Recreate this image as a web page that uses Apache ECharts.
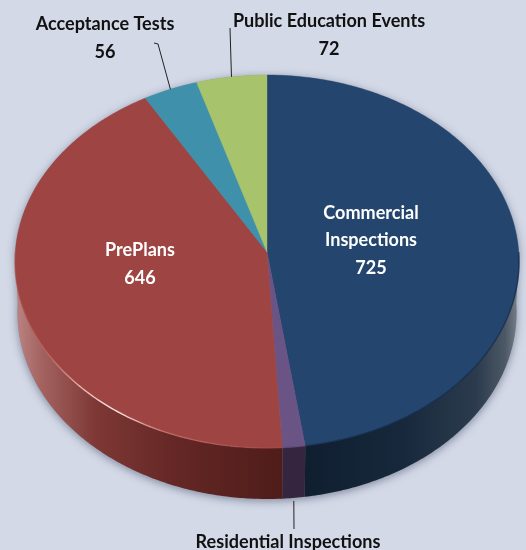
<!DOCTYPE html>
<html>
<head>
<meta charset="utf-8">
<script src="https://cdn.jsdelivr.net/npm/echarts@6/dist/echarts.min.js"></script>
<style>
  html, body { margin: 0; padding: 0; background: #d3d9e7; }
  #main { width: 526px; height: 550px; }
</style>
</head>
<body>
<div id="main"></div>
<script>
// values, in drawing order clockwise from 12 o'clock
const categories = ['Commercial\nInspections', 'Residential Inspections', 'PrePlans', 'Acceptance Tests', 'Public Education Events']
const values = [725, 21, 646, 56, 72]
const showValue = [true, false, true, true, true] // the residential number is cut off in the picture

const faceColors = ['#23456e', '#6a5485', '#9e4442', '#3f90aa', '#a7c36b']
const textColors = ['#ffffff', '#111111', '#ffffff', '#111111', '#111111']
// label centres in px
const labelX = [371, 288, 140, 105, 329]
const labelY = [240, 542, 264, 38, 35]
// leader end points in px, null = no leader
const leaderEnds = [null, [[294, 529]], null, [[158, 44], [154, 43]], [[230, 28]]]

const W = 526, H = 550
const CX = 267, CY = 252, RX = 251.7, RY = 186, P = 0.0509, DEPTH = 51
const BOTTOM_X = 0.99 // the lower rim is a touch narrower than the face
const total = values.reduce((a, b) => a + b, 0)

// slice start/end angles, radians clockwise from the top
const starts = [], ends = []
let run = 0
values.forEach(v => {
    starts.push(run / total * Math.PI * 2)
    run += v
    ends.push(run / total * Math.PI * 2)
})

// tilted disc: angle -> projected axis value
function project(a) {
    let u = Math.sin(a), v = -Math.cos(a), d = 1 - P * v
    return [u / d, v / d]
}
function arc(from, to, dy, sx) {
    let pts = [], n = Math.max(2, Math.ceil((to - from) / 0.01))
    for (let i = 0; i <= n; i++) {
        let p = project(from + (to - from) * i / n)
        pts.push([p[0] * (sx || 1), p[1] + (dy || 0) / RY])
    }
    return pts
}

const LG = echarts.graphic.LinearGradient
const redWall = new LG(15, 0, 285, 0, [
    { offset: 0, color: '#bb8583' }, { offset: 0.1, color: '#a36260' }, { offset: 0.3, color: '#7d3835' },
    { offset: 0.6, color: '#642725' }, { offset: 1, color: '#4e1c19' }
], true)
const navyWall = new LG(305, 0, 520, 0, [
    { offset: 0, color: '#0f1f30' }, { offset: 0.45, color: '#17283c' }, { offset: 0.8, color: '#2c3c4e' },
    { offset: 0.93, color: '#4c5865' }, { offset: 0.985, color: '#737c86' }, { offset: 1, color: '#a5acb4' }
], true)
const wallFills = [navyWall, '#36253f', redWall, '#2a5f70', '#6f8247']
const rimRed = new LG(15, 0, 285, 0, [
    { offset: 0, color: 'rgba(170,80,75,0.4)' }, { offset: 0.12, color: 'rgba(200,110,105,0.6)' },
    { offset: 0.24, color: 'rgba(245,195,190,0.85)' }, { offset: 0.38, color: 'rgba(255,235,230,1)' },
    { offset: 0.55, color: 'rgba(215,125,120,0.7)' }, { offset: 1, color: 'rgba(170,75,70,0.3)' }
], true)
const rimStrokes = ['rgba(20,40,70,0.7)', 'rgba(90,70,120,0.6)', rimRed, 'rgba(255,255,255,0)', 'rgba(255,255,255,0)']

function renderShadow(params, api) {
    let top = arc(Math.PI / 2, Math.PI * 1.5, DEPTH, BOTTOM_X)
    let back = arc(Math.PI * 1.5, Math.PI * 2.5, 0)
    return {
        type: 'polygon',
        shape: { points: top.concat(back).map(p => api.coord(p)) },
        style: { fill: '#8d95a6', shadowColor: 'rgba(60,70,95,0.55)', shadowBlur: 9, shadowOffsetY: 2 },
        silent: true
    }
}

function renderSlice(params, api) {
    let i = api.value(0)
    let a0 = starts[i], a1 = ends[i]
    let kids = []
    // side wall, front half of the disc only
    let w0 = Math.max(a0, Math.PI / 2), w1 = Math.min(a1, Math.PI * 1.5)
    if (w1 > w0) {
        let pts = arc(w0, w1, 0).concat(arc(w0, w1, DEPTH, BOTTOM_X).reverse())
        kids.push({ type: 'polygon', shape: { points: pts.map(p => api.coord(p)) }, style: { fill: wallFills[i] } })
    }
    // top face
    let face = [[0, 0]].concat(arc(a0, a1, 0))
    kids.push({
        type: 'polygon', shape: { points: face.map(p => api.coord(p)) },
        style: { fill: faceColors[i], stroke: faceColors[i], lineWidth: 0.4 }
    })
    // lit bevel on the front edge
    if (w1 > w0) {
        kids.push({
            type: 'polyline', shape: { points: arc(w0, w1, 0).map(p => api.coord(p)) },
            style: { fill: null, stroke: rimStrokes[i], lineWidth: 1.4 }
        })
    }
    // leader line from the middle of the slice
    if (leaderEnds[i]) {
        let mid = (a0 + a1) / 2
        let m = project(mid)
        let onFront = Math.cos(mid) < 0
        let from = api.coord([m[0], m[1] + (onFront ? (DEPTH + 3) / RY : 0)])
        kids.push({
            type: 'polyline', shape: { points: [from].concat(leaderEnds[i]) },
            style: { fill: null, stroke: '#222222', lineWidth: 1 }
        })
    }
    kids.push({
        type: 'text',
        x: labelX[i], y: labelY[i], scaleX: 0.95,
        style: {
            text: categories[i] + (showValue[i] ? '\n' + values[i] : ''),
            x: 0, y: 0, align: 'center', verticalAlign: 'middle',
            fill: textColors[i], font: 'bold 19px Lato', lineHeight: 27.5
        }
    })
    return { type: 'group', children: kids }
}

const myChart = echarts.init(document.getElementById('main'))
myChart.setOption({
    animation: false,
    backgroundColor: '#d3d9e7',
    grid: { left: 0, top: 0, width: W, height: H },
    xAxis: { type: 'value', show: false, min: -CX / RX, max: (W - CX) / RX },
    yAxis: { type: 'value', show: false, inverse: true, min: -CY / RY, max: (H - CY) / RY },
    series: [
        { type: 'custom', renderItem: renderShadow, data: [[0]], clip: false, silent: true },
        { type: 'custom', renderItem: renderSlice, data: values.map((v, i) => [i, v]), clip: false, silent: true }
    ]
})
</script>
</body>
</html>
